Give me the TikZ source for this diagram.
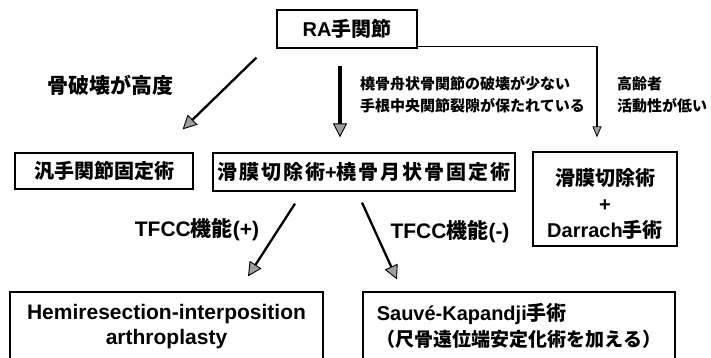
\documentclass[tikz,border=0pt]{standalone}
\usepackage{fontspec}
\setmainfont{Liberation Sans}
\newfontfamily\jp{Noto Sans CJK JP}
\newfontfamily\jpw{Noto Sans CJK JP}[LetterSpace=10]
\usetikzlibrary{arrows.meta,calc}
\newcommand{\J}[1]{{\jp #1}}
\newcommand{\JW}[1]{{\jpw #1}}
\begin{document}
\begin{tikzpicture}[x=1pt,y=-1pt,
 box/.style={draw,line width=1.2pt,inner sep=0pt,align=center,font=\bfseries\fontsize{20}{26}\selectfont},
 txt/.style={inner sep=0pt,align=center,font=\bfseries\fontsize{20}{26}\selectfont},
 lbl/.style={inner sep=0pt,align=left,font=\bfseries\fontsize{15}{22}\selectfont},
 blbl/.style={inner sep=0pt,font=\bfseries\fontsize{21}{24}\selectfont},
 thk/.style={line width=2.3pt,-{Triangle[length=14pt,width=14pt,fill=gray!75,line width=0.9pt]}},
 thn/.style={line width=1.4pt,-{Triangle[length=11pt,width=9pt,fill=gray!75,line width=0.8pt]}}
]
\useasboundingbox (0,0) rectangle (711,358);
\clip (0,0) rectangle (711,358);

\node[box,minimum width=140pt,minimum height=38pt] (top) at (347,29) {RA\J{手関節}};
\node[box,minimum width=178pt,minimum height=36pt] (fuse) at (104,171) {\J{汎手関節固定術}};
\node[box,minimum width=302pt,minimum height=38pt] (syn) at (364,172) {\JW{滑膜切除術}+\JW{橈骨月状骨固定術}};
\node[box,minimum width=144pt,minimum height=94pt] (dar) at (605,199) {};
\node[txt] (darT) at (605,204) {\J{滑膜切除術}\\+\\Darrach\J{手術}};
\node[box,minimum width=313pt,minimum height=70pt,font=\bfseries\fontsize{21}{25}\selectfont] (hemi) at (166.5,327) {Hemiresection-interposition\\arthroplasty};
\node[box,minimum width=312pt,minimum height=68pt,align=left] (sk) at (519,326) {Sauvé-Kapandji\J{手術}\\{\fontsize{19}{25}\selectfont\J{（尺骨遠位端安定化術を加える）}}};

\node[blbl] (l1) at (110,85) {\J{骨破壊が高度}};
\node[lbl,anchor=west] (l2) at (360,95) {\J{橈骨舟状骨関節の破壊が少ない}\\\J{手根中央関節裂隙が保たれている}};
\node[lbl,anchor=west] (l3) at (617,95) {\J{高齢者}\\\J{活動性が低い}};
\node[blbl] (l4) at (197,230) {TFCC\J{機能}(+)};
\node[blbl] (l5) at (450,232) {TFCC\J{機能}(-)};

\draw[thk] ([shift={(-20,9)}]top.south west) -- ([shift={(-11,-23)}]fuse.north east);
\draw[thk,line width=3.2pt] ([shift={(-7,17)}]top.south) -- ([shift={(-24,-15)}]syn.north);
\draw[thn] ([shift={(0,-2)}]top.south east) -| ([shift={(-8,-14)}]dar.north);
\draw[thk] ([shift={(-69,12)}]syn.south) -- ([shift={(81.5,-15)}]hemi.north);
\draw[thk] ([shift={(-2,11)}]syn.south) -- ([shift={(-122,-12)}]sk.north);
\end{tikzpicture}
\end{document}
